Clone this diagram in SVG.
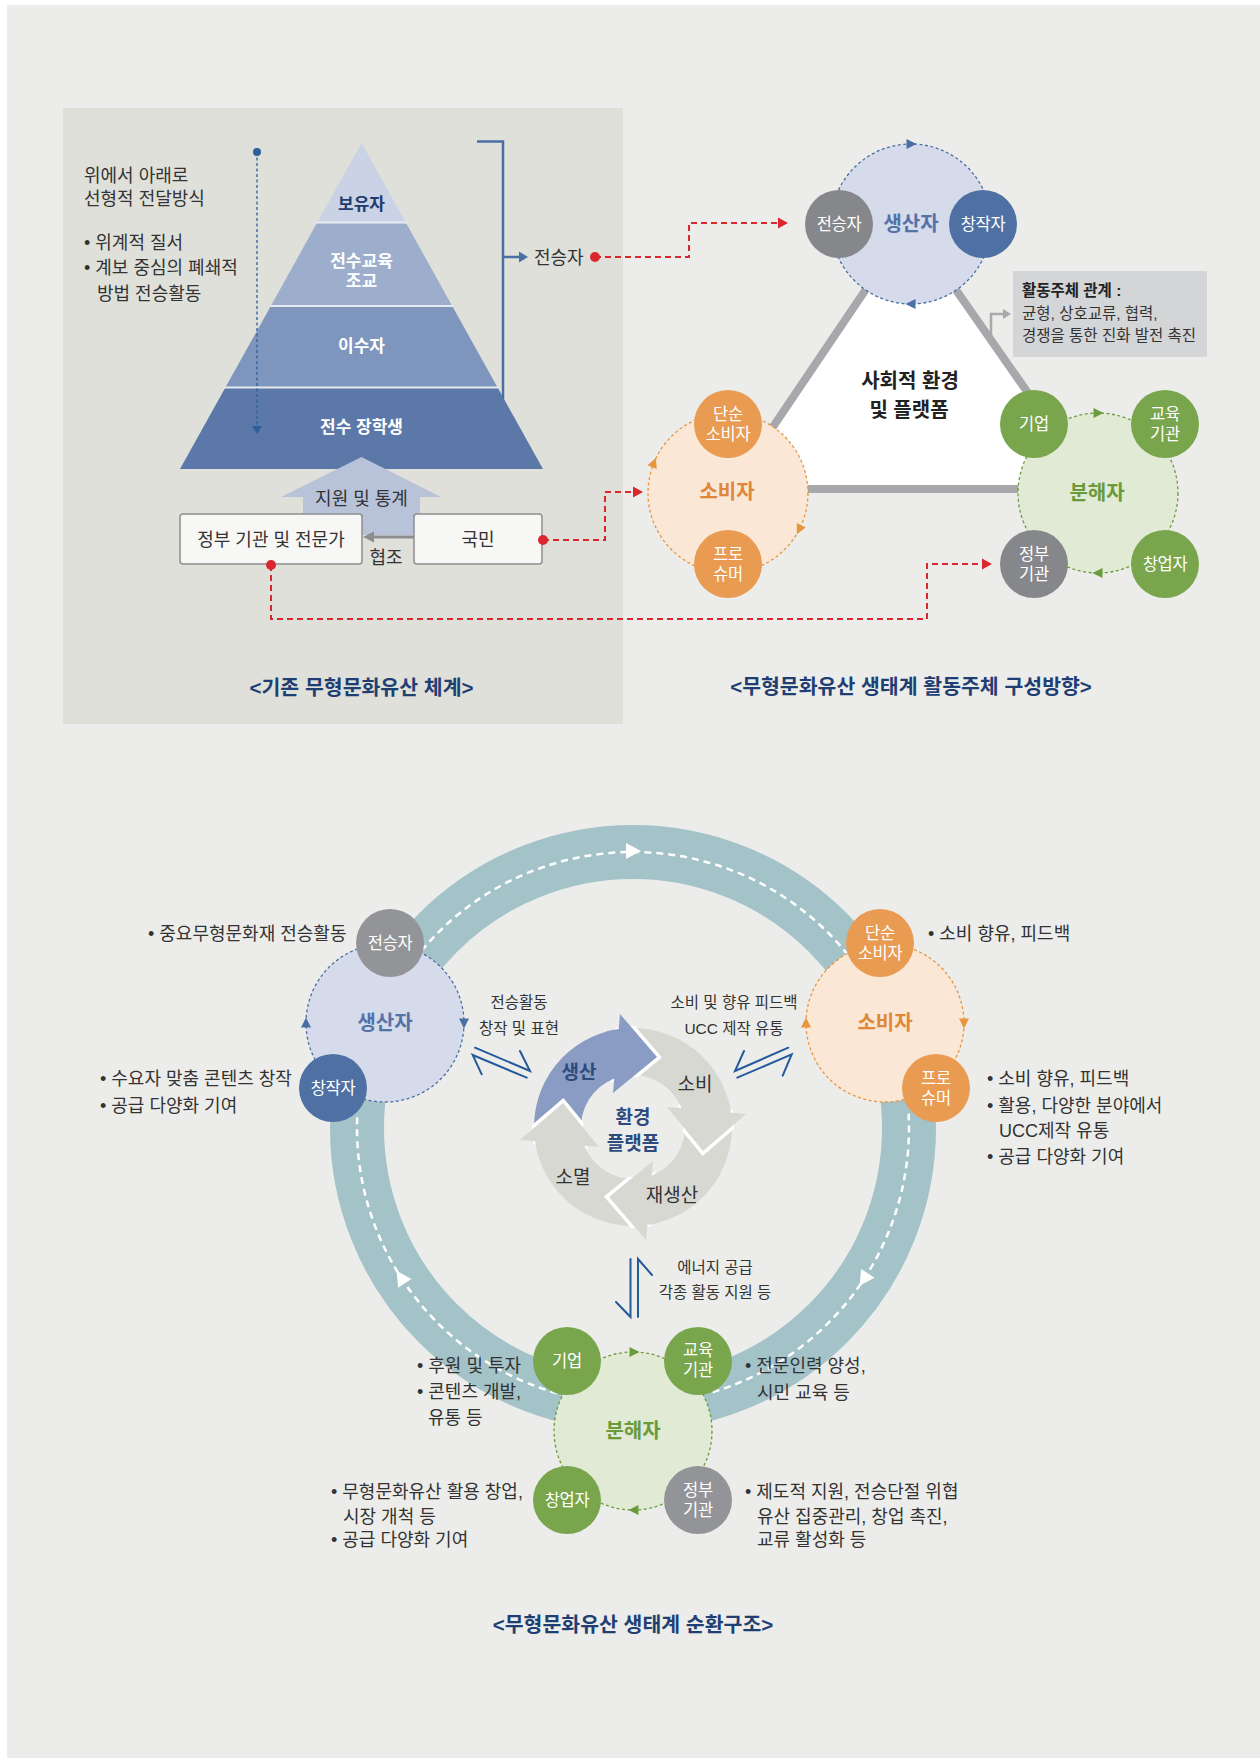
<svg xmlns="http://www.w3.org/2000/svg" width="1260" height="1758" viewBox="0 0 1260 1758">
<defs>
<style>
text { font-family: 'Liberation Sans', 'Noto Sans CJK KR', sans-serif; }
.t17 { font-size: 18px; fill: #333; }
.t15 { font-size: 15.5px; fill: #333; }
.t14 { font-size: 15.5px; fill: #333; text-anchor: middle; }
.mid { text-anchor: middle; }
.w16 { font-size: 16.5px; fill: #fff; text-anchor: middle; letter-spacing: -0.3px; }
.b18 { font-size: 20px; font-weight: bold; text-anchor: middle; }
.b17 { font-size: 19px; font-weight: bold; text-anchor: middle; }
.cy { font-size: 19px; fill: #333; text-anchor: middle; }
.py { font-size: 17px; font-weight: bold; text-anchor: middle; fill: #fff; }
.cap { font-size: 20.5px; font-weight: bold; fill: #1f3f73; text-anchor: middle; }
.dc { stroke-width: 1.3; stroke-dasharray: 3 2.5; }
.red { fill: none; stroke: #d9272e; stroke-width: 2; stroke-dasharray: 6 4; }
.blue2 { fill: none; stroke: #245a9a; stroke-width: 2; stroke-linecap: round; }
.cyc { stroke: none; }
.cyc-o { stroke: #fff; stroke-width: 7; stroke-linejoin: miter; }
</style>
<path id="ah" d="M5.5,0 L-4.5,-5 L-4.5,5 Z"/>
<clipPath id="ann">
  <path clip-rule="evenodd" d="M532 1127 A101 101 0 1 0 734 1127 A101 101 0 1 0 532 1127 Z M583 1127 A50 50 0 1 0 683 1127 A50 50 0 1 0 583 1127 Z"/>
</clipPath>
</defs>

<rect width="1260" height="1758" fill="#fff"/>
<rect x="7" y="5" width="1253" height="1753" fill="#ecedea"/>

<!-- ===== Top-left panel ===== -->
<g id="panel-existing">
  <rect x="63" y="108" width="560" height="616" fill="#dfe0da"/>
  <text class="t17" x="84" y="181.5">위에서 아래로</text>
  <text class="t17" x="84" y="204.5">선형적 전달방식</text>
  <text class="t17" x="84" y="248.5">• 위계적 질서</text>
  <text class="t17" x="84" y="273.5">• 계보 중심의 폐쇄적</text>
  <text class="t17" x="97" y="299.5">방법 전승활동</text>
</g>

<g id="pyramid">
  <polygon points="361.5,143 405.8,222.5 317.2,222.5" fill="#cad2e5"/>
  <polygon points="317.2,222.5 405.8,222.5 452.2,306 270.8,306" fill="#9daecd"/>
  <polygon points="270.8,306 452.2,306 497.6,387.5 225.4,387.5" fill="#7e96bd"/>
  <polygon points="225.4,387.5 497.6,387.5 543,469 180,469" fill="#5b78a8"/>
  <g stroke="#e6e9ef" stroke-width="2">
    <line x1="316" y1="222.5" x2="407" y2="222.5"/>
    <line x1="270" y1="306" x2="453" y2="306"/>
    <line x1="224.5" y1="387.5" x2="498.5" y2="387.5"/>
  </g>
  <text class="py" x="361.5" y="210" style="fill:#1e3c6e">보유자</text>
  <text class="py" x="361.5" y="267">전수교육</text>
  <text class="py" x="361.5" y="287">조교</text>
  <text class="py" x="361.5" y="352">이수자</text>
  <text class="py" x="361.5" y="433">전수 장학생</text>
</g>

<g id="top-down-arrow">
  <line x1="257" y1="152" x2="257" y2="427" stroke="#2d5f9a" stroke-width="1.3" stroke-dasharray="3 2.5"/>
  <circle cx="257" cy="152" r="4" fill="#2d5f9a"/>
  <polygon points="252,426 262,426 257,434" fill="#2d5f9a"/>
</g>

<g id="bracket">
  <path d="M477 141.5 H503 V399" fill="none" stroke="#4a6fa5" stroke-width="2.5"/>
  <line x1="503" y1="257" x2="520" y2="257" stroke="#4a6fa5" stroke-width="2.5"/>
  <polygon points="519,251.5 519,262.5 528,257" fill="#4a6fa5"/>
  <text class="t17" x="534" y="263.5">전승자</text>
</g>

<g id="support-arrow">
  <polygon points="361.5,457 441,497 420,497 420,535 303,535 303,497 281,497" fill="#b8c3da"/>
  <text class="t17 mid" x="361.5" y="504.5">지원 및 통계</text>
</g>

<g id="node-gov">
  <rect x="180" y="514" width="182" height="50" rx="3" fill="#f7f7f6" stroke="#8f8f8f" stroke-width="1.5"/>
  <text class="t17 mid" x="271" y="545.5">정부 기관 및 전문가</text>
</g>
<g id="node-people">
  <rect x="414" y="514" width="128" height="50" rx="3" fill="#f7f7f6" stroke="#8f8f8f" stroke-width="1.5"/>
  <text class="t17 mid" x="478" y="545.5">국민</text>
</g>
<g id="coop-arrow">
  <line x1="414" y1="537" x2="372" y2="537" stroke="#8d8d8d" stroke-width="3"/>
  <polygon points="363,537 374,531.5 374,542.5" fill="#8d8d8d"/>
  <text class="t17 mid" x="386" y="563.5">협조</text>
</g>

<text class="cap" x="361.5" y="694.5">&lt;기존 무형문화유산 체계&gt;</text>

<!-- ===== Top-right diagram ===== -->
<g id="triangle">
  <polygon points="910,224 731,489 1095,489" fill="#fff" stroke="#a7a8ab" stroke-width="8" stroke-linejoin="round"/>
  <text class="b18" x="910" y="388" style="fill:#222">사회적 환경</text>
  <text class="b18" x="909" y="417" style="fill:#222">및 플랫폼</text>
</g>

<g id="relation-box">
  <path d="M991 343 V314 H1003" fill="none" stroke="#a9a9a9" stroke-width="2.5"/>
  <polygon points="1003,309 1003,319 1011,314" fill="#a9a9a9"/>
  <rect x="1013" y="271" width="194" height="86" fill="#d4d5d6"/>
  <text class="t15" x="1022" y="295.5" style="font-weight:bold;fill:#222">활동주체 관계 :</text>
  <text class="t15" x="1022" y="318.5">균형, 상호교류, 협력,</text>
  <text class="t15" x="1022" y="340.5">경쟁을 통한 진화 발전 촉진</text>
</g>

<g id="producer-top">
  <circle cx="911" cy="224" r="80" fill="#d5dbea" stroke="#4a6fa5" class="dc"/>
  <use href="#ah" transform="translate(911 144)" fill="#4a6fa5"/>
  <use href="#ah" transform="translate(911 304) rotate(180)" fill="#4a6fa5"/>
  <text class="b18" x="911" y="231" style="fill:#5472a8">생산자</text>
</g>
<g id="inheritor-top">
  <circle cx="839" cy="224" r="34" fill="#86878b"/>
  <text class="w16" x="839" y="230">전승자</text>
</g>
<g id="creator-top">
  <circle cx="983" cy="224" r="34" fill="#4f70a3"/>
  <text class="w16" x="983" y="230">창작자</text>
</g>

<g id="consumer-top">
  <circle cx="728" cy="493" r="80" fill="#fae7d5" stroke="#e8953f" class="dc"/>
  <use href="#ah" transform="translate(653.8 463) rotate(-68)" fill="#e8953f"/>
  <use href="#ah" transform="translate(799.3 529.3) rotate(117)" fill="#e8953f"/>
  <text class="b18" x="727" y="499" style="fill:#e08838">소비자</text>
</g>
<g id="simple-consumer-top">
  <circle cx="728" cy="424" r="34" fill="#e89b51"/>
  <text class="w16" x="728" y="420">단순</text>
  <text class="w16" x="728" y="439.5">소비자</text>
</g>
<g id="prosumer-top">
  <circle cx="728" cy="564" r="34" fill="#e89b51"/>
  <text class="w16" x="728" y="560">프로</text>
  <text class="w16" x="728" y="579.5">슈머</text>
</g>

<g id="decomposer-top">
  <circle cx="1098" cy="493" r="80" fill="#e1ead5" stroke="#6b9c3c" class="dc"/>
  <use href="#ah" transform="translate(1098 413)" fill="#6b9c3c"/>
  <use href="#ah" transform="translate(1098 573) rotate(180)" fill="#6b9c3c"/>
  <text class="b18" x="1097" y="500" style="fill:#6a9a3a">분해자</text>
</g>
<g id="company-top">
  <circle cx="1034" cy="424" r="34" fill="#79a54d"/>
  <text class="w16" x="1034" y="430">기업</text>
</g>
<g id="edu-top">
  <circle cx="1165" cy="424" r="34" fill="#79a54d"/>
  <text class="w16" x="1165" y="420">교육</text>
  <text class="w16" x="1165" y="439.5">기관</text>
</g>
<g id="govagency-top">
  <circle cx="1034" cy="564" r="34" fill="#86878b"/>
  <text class="w16" x="1034" y="560">정부</text>
  <text class="w16" x="1034" y="579.5">기관</text>
</g>
<g id="startup-top">
  <circle cx="1165" cy="564" r="34" fill="#79a54d"/>
  <text class="w16" x="1165" y="570">창업자</text>
</g>

<text class="cap" x="911" y="693.5">&lt;무형문화유산 생태계 활동주체 구성방향&gt;</text>

<!-- red connectors -->
<g id="red-connectors">
  <path class="red" d="M595 257 H689 V223 H779"/>
  <polygon points="778,217.5 778,228.5 788,223" fill="#d9272e"/>
  <path class="red" d="M543 540 H605 V492 H634"/>
  <polygon points="633,486.5 633,497.5 643,492" fill="#d9272e"/>
  <path class="red" d="M271 565 V619 H927 V564 H983"/>
  <polygon points="982,558.5 982,569.5 992,564" fill="#d9272e"/>
  <circle cx="595" cy="257" r="5" fill="#d9272e"/>
  <circle cx="543" cy="540" r="5" fill="#d9272e"/>
  <circle cx="271" cy="565" r="5" fill="#d9272e"/>
</g>

<!-- ===== Bottom cycle ===== -->
<g id="ring">
  <circle cx="633" cy="1128" r="276" fill="none" stroke="#a4c3c8" stroke-width="54"/>
  <g fill="none" stroke="#fff" stroke-width="2.5" stroke-dasharray="7 5">
    <path d="M421.6 950.6 A276 276 0 0 1 850.5 958.1"/>
    <path d="M908.6 1113.6 A276 276 0 0 1 709.1 1393.3"/>
    <path d="M556.9 1393.3 A276 276 0 0 1 357.4 1113.6"/>
  </g>
  <g fill="#fff">
    <polygon points="626,843 626,859 641,851"/>
    <polygon points="859.6,1285.8 874.5,1277.7 861.1,1268.9"/>
    <polygon points="396.6,1270.8 398.1,1287.7 411.5,1278.9"/>
  </g>
</g>

<g id="inner-cycle">
  <path class="cyc" fill="#8a9cc4" d="M534.4 1135.6 A99 99 0 0 1 618.7 1029 L614.3 1078.5 A52 52 0 0 0 581.2 1131.5 Z"/>
  <path class="cyc" fill="#d8d8d3" transform="rotate(90 633 1127)" d="M534.4 1135.6 A99 99 0 0 1 618.7 1029 L614.3 1078.5 A52 52 0 0 0 581.2 1131.5 Z"/>
  <path class="cyc" fill="#d8d8d3" transform="rotate(180 633 1127)" d="M534.4 1135.6 A99 99 0 0 1 618.7 1029 L614.3 1078.5 A52 52 0 0 0 581.2 1131.5 Z"/>
  <path class="cyc" fill="#d8d8d3" transform="rotate(270 633 1127)" d="M534.4 1135.6 A99 99 0 0 1 618.7 1029 L614.3 1078.5 A52 52 0 0 0 581.2 1131.5 Z"/>
  <g clip-path="url(#ann)">
    <path class="cyc-o" fill="#8a9cc4" d="M620 1014 L657 1057 L613 1093 Z"/>
    <path class="cyc-o" fill="#d8d8d3" transform="rotate(90 633 1127)" d="M620 1014 L657 1057 L613 1093 Z"/>
    <path class="cyc-o" fill="#d8d8d3" transform="rotate(180 633 1127)" d="M620 1014 L657 1057 L613 1093 Z"/>
    <path class="cyc-o" fill="#d8d8d3" transform="rotate(270 633 1127)" d="M620 1014 L657 1057 L613 1093 Z"/>
  </g>
  <path class="cyc" fill="#8a9cc4" d="M605.7 1031.8 A99 99 0 0 1 618.7 1029 L620 1014 L657 1057 L613 1093 L614.3 1078.5 A52 52 0 0 0 607.8 1081.5 Z"/>
  <path class="cyc" fill="#d8d8d3" transform="rotate(90 633 1127)" d="M605.7 1031.8 A99 99 0 0 1 618.7 1029 L620 1014 L657 1057 L613 1093 L614.3 1078.5 A52 52 0 0 0 607.8 1081.5 Z"/>
  <path class="cyc" fill="#d8d8d3" transform="rotate(180 633 1127)" d="M605.7 1031.8 A99 99 0 0 1 618.7 1029 L620 1014 L657 1057 L613 1093 L614.3 1078.5 A52 52 0 0 0 607.8 1081.5 Z"/>
  <path class="cyc" fill="#d8d8d3" transform="rotate(270 633 1127)" d="M605.7 1031.8 A99 99 0 0 1 618.7 1029 L620 1014 L657 1057 L613 1093 L614.3 1078.5 A52 52 0 0 0 607.8 1081.5 Z"/>
  <text class="b17" x="579" y="1078.5" style="fill:#2d4b7d">생산</text>
  <text class="cy" x="695" y="1091">소비</text>
  <text class="cy" x="672" y="1202">재생산</text>
  <text class="cy" x="573" y="1183.5">소멸</text>
  <text class="b17" x="633" y="1123.5" style="fill:#2d4b7d">환경</text>
  <text class="b17" x="633" y="1150" style="fill:#2d4b7d">플랫폼</text>
</g>

<g id="exchange-arrows">
  <path class="blue2" d="M475 1047.7 L530 1071 L520 1051"/>
  <path class="blue2" d="M481.7 1074.3 L472.7 1055 L526.7 1077.7"/>
  <path class="blue2" d="M744 1051 L735 1071 L788.3 1047.7"/>
  <path class="blue2" d="M737.3 1077.7 L791.7 1054.3 L782.7 1075.7"/>
  <path class="blue2" d="M630.5 1259 V1317 L616 1302"/>
  <path class="blue2" d="M638 1317 V1259 L652 1275"/>
</g>

<g id="flow-labels">
  <text class="t14" x="519" y="1007.5">전승활동</text>
  <text class="t14" x="519" y="1033.5">창작 및 표현</text>
  <text class="t14" x="734" y="1007.5">소비 및 향유 피드백</text>
  <text class="t14" x="734" y="1033.5">UCC 제작 유통</text>
  <text class="t14" x="715" y="1272.5">에너지 공급</text>
  <text class="t14" x="715" y="1297.5">각종 활동 지원 등</text>
</g>

<g id="producer-bottom">
  <circle cx="385" cy="1023" r="79" fill="#d5dbea" stroke="#4a6fa5" class="dc"/>
  <use href="#ah" transform="translate(306 1023) rotate(-90)" fill="#4a6fa5"/>
  <use href="#ah" transform="translate(464 1023) rotate(90)" fill="#4a6fa5"/>
  <text class="b18" x="385" y="1030" style="fill:#5472a8">생산자</text>
</g>
<g id="consumer-bottom">
  <circle cx="885" cy="1023" r="79" fill="#fae7d5" stroke="#e8953f" class="dc"/>
  <use href="#ah" transform="translate(806 1023) rotate(-90)" fill="#e8953f"/>
  <use href="#ah" transform="translate(964 1023) rotate(90)" fill="#e8953f"/>
  <text class="b18" x="885" y="1030" style="fill:#e08838">소비자</text>
</g>
<g id="decomposer-bottom">
  <circle cx="633" cy="1431" r="79" fill="#e1ead5" stroke="#6b9c3c" class="dc"/>
  <use href="#ah" transform="translate(634 1352)" fill="#6b9c3c"/>
  <use href="#ah" transform="translate(634 1510) rotate(180)" fill="#6b9c3c"/>
  <text class="b18" x="633" y="1438" style="fill:#6a9a3a">분해자</text>
</g>

<g id="inheritor-bottom">
  <circle cx="390" cy="943" r="34" fill="#939498"/>
  <text class="w16" x="390" y="949">전승자</text>
</g>
<g id="creator-bottom">
  <circle cx="333" cy="1088" r="34" fill="#4f70a2"/>
  <text class="w16" x="333" y="1094">창작자</text>
</g>
<g id="simple-consumer-bottom">
  <circle cx="880" cy="943" r="34" fill="#e89b51"/>
  <text class="w16" x="880" y="939">단순</text>
  <text class="w16" x="880" y="958.5">소비자</text>
</g>
<g id="prosumer-bottom">
  <circle cx="936" cy="1088" r="34" fill="#e89b51"/>
  <text class="w16" x="936" y="1084">프로</text>
  <text class="w16" x="936" y="1103.5">슈머</text>
</g>
<g id="company-bottom">
  <circle cx="567" cy="1361" r="34" fill="#79a54d"/>
  <text class="w16" x="567" y="1367">기업</text>
</g>
<g id="edu-bottom">
  <circle cx="698" cy="1361" r="34" fill="#79a54d"/>
  <text class="w16" x="698" y="1356">교육</text>
  <text class="w16" x="698" y="1376">기관</text>
</g>
<g id="startup-bottom">
  <circle cx="567" cy="1500" r="34" fill="#79a54d"/>
  <text class="w16" x="567" y="1506">창업자</text>
</g>
<g id="govagency-bottom">
  <circle cx="698" cy="1500" r="34" fill="#939498"/>
  <text class="w16" x="698" y="1495.5">정부</text>
  <text class="w16" x="698" y="1515.5">기관</text>
</g>

<g id="notes">
  <text class="t17" x="148" y="939.5">• 중요무형문화재 전승활동</text>
  <text class="t17" x="100" y="1084.5">• 수요자 맞춤 콘텐츠 창작</text>
  <text class="t17" x="100" y="1111.5">• 공급 다양화 기여</text>
  <text class="t17" x="928" y="939.5">• 소비 향유, 피드백</text>
  <text class="t17" x="987" y="1084.5">• 소비 향유, 피드백</text>
  <text class="t17" x="987" y="1111.5">• 활용, 다양한 분야에서</text>
  <text class="t17" x="999" y="1136.5">UCC제작 유통</text>
  <text class="t17" x="987" y="1162.5">• 공급 다양화 기여</text>
  <text class="t17" x="417" y="1371.5">• 후원 및 투자</text>
  <text class="t17" x="417" y="1397.5">• 콘텐츠 개발,</text>
  <text class="t17" x="428" y="1423.5">유통 등</text>
  <text class="t17" x="745" y="1371.5">• 전문인력 양성,</text>
  <text class="t17" x="757" y="1398.5">시민 교육 등</text>
  <text class="t17" x="331" y="1497.5">• 무형문화유산 활용 창업,</text>
  <text class="t17" x="343" y="1522.5">시장 개척 등</text>
  <text class="t17" x="331" y="1545.5">• 공급 다양화 기여</text>
  <text class="t17" x="745" y="1497.5">• 제도적 지원, 전승단절 위협</text>
  <text class="t17" x="757" y="1522.5">유산 집중관리, 창업 촉진,</text>
  <text class="t17" x="757" y="1545.5">교류 활성화 등</text>
</g>

<text class="cap" x="633" y="1632">&lt;무형문화유산 생태계 순환구조&gt;</text>
</svg>
